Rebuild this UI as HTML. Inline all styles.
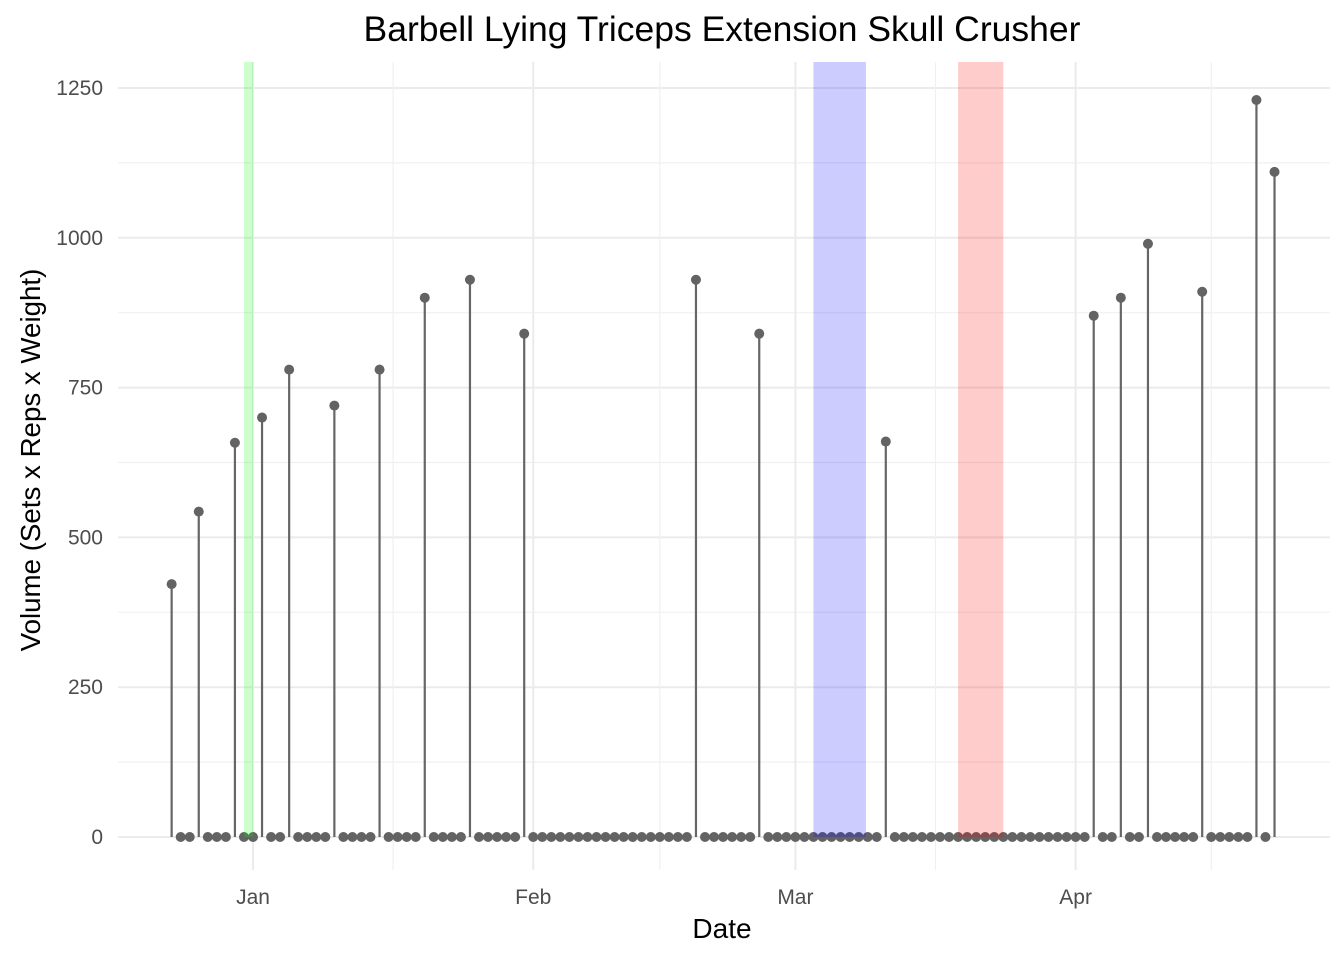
<!DOCTYPE html>
<html><head><meta charset="utf-8"><style>
html,body{margin:0;padding:0;background:#fff;}
svg{display:block;font-family:"Liberation Sans",Arial,sans-serif;}
</style></head><body>
<svg id="chart" width="1344" height="960" xmlns="http://www.w3.org/2000/svg">
<text x="722" y="41" text-anchor="middle" font-size="35.5" fill="#000">Barbell Lying Triceps Extension Skull Crusher</text>
<text x="722" y="938" text-anchor="middle" font-size="28" fill="#000">Date</text>
<text transform="translate(40,460) rotate(-90)" text-anchor="middle" font-size="27.7" fill="#000">Volume (Sets x Reps x Weight)</text>
<g id="grid"></g>
<g id="marks"></g>
<g id="bands"></g>
<g id="axes"></g>
</svg>
<script>
// day offsets from Jan 1 and volumes for non-zero sessions
const sessionDays = [-9,-6,-2,1,4,9,14,19,24,30,49,56,70,93,96,99,105,111,113];
const sessionVolumes = [422,543,658,700,780,720,780,900,930,840,930,840,660,870,900,990,910,1230,1110];
const firstDay = -9, lastDay = 113;
const yTicks = [0,250,500,750,1000,1250];
const xTickLabels = ["Jan","Feb","Mar","Apr"];
const xTickDays = [0,31,60,91];
const xMinorDays = [15.5,45,75.5,106];
const bandStart = [-1,62,78];
const bandEnd = [0,67.8,83];
const bandColors = ["rgba(0,255,0,0.2)","rgba(0,0,255,0.2)","rgba(255,0,0,0.2)"];
const bandNames = ["green-band","blue-band","red-band"];

const NS="http://www.w3.org/2000/svg";
const X=d=>253+9.04*d;
const Y=v=>837-v*0.5992;
const L=118,R=1330,T=62,B=870;
function mk(tag,attrs,parent){const e=document.createElementNS(NS,tag);for(const k in attrs)e.setAttribute(k,attrs[k]);parent.appendChild(e);return e;}
const grid=document.getElementById('grid'),marks=document.getElementById('marks'),bands=document.getElementById('bands'),axes=document.getElementById('axes');
for(let i=0;i<yTicks.length;i++){
  const v=yTicks[i];
  let g=mk('line',{x1:L,x2:R,y1:Y(v),y2:Y(v),stroke:'#ebebeb','stroke-width':2},grid);
  
  if(i<yTicks.length-1){
    let m=mk('line',{x1:L,x2:R,y1:Y(v+125),y2:Y(v+125),stroke:'#f0f0f0','stroke-width':1.2},grid);
    
  }
  let t=mk('text',{x:103,y:Y(v)+7,'text-anchor':'end','font-size':21,fill:'#4d4d4d'},axes);
  t.textContent=v;
  
}
for(const d of xMinorDays){
  let m=mk('line',{x1:X(d),x2:X(d),y1:T,y2:B,stroke:'#f0f0f0','stroke-width':1.2},grid);
  
}
for(let i=0;i<xTickDays.length;i++){
  let g=mk('line',{x1:X(xTickDays[i]),x2:X(xTickDays[i]),y1:T,y2:B,stroke:'#ebebeb','stroke-width':2},grid);
  
  let t=mk('text',{x:X(xTickDays[i]),y:904,'text-anchor':'middle','font-size':21,fill:'#4d4d4d'},axes);
  t.textContent=xTickLabels[i];
  
}
for(let d=firstDay;d<=lastDay;d++){
  const idx=sessionDays.indexOf(d);
  if(idx>=0){
    const v=sessionVolumes[idx];
    let s=mk('line',{x1:X(d),x2:X(d),y1:Y(0),y2:Y(v),stroke:'#666','stroke-width':2.2},marks);
    
    let c=mk('circle',{cx:X(d),cy:Y(v),r:5,fill:'#636363'},marks);
    
  } else {
    let c=mk('circle',{cx:X(d),cy:Y(0),r:5,fill:'#636363'},marks);
    
  }
}
for(let i=0;i<bandStart.length;i++){
  let r=mk('rect',{x:X(bandStart[i]),y:T,width:X(bandEnd[i])-X(bandStart[i]),height:Y(0)-T,fill:bandColors[i]},bands);
  
}
</script>
</body></html>
